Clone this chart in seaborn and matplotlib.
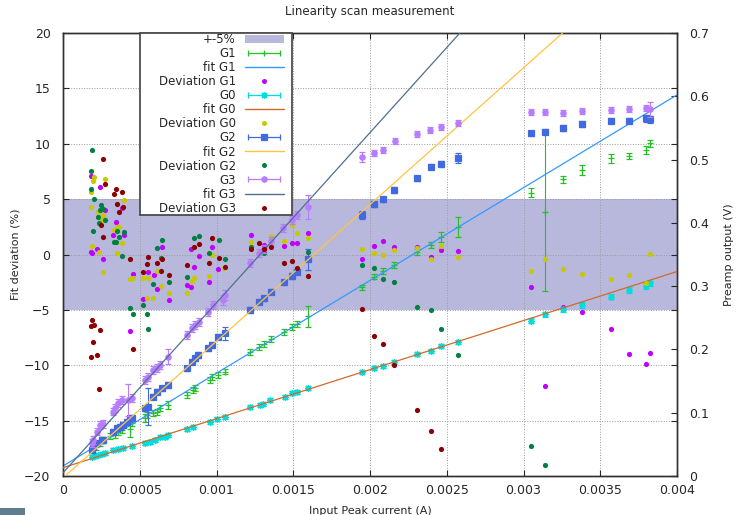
import numpy as np
import seaborn as sns
import matplotlib
matplotlib.use("Agg")
import matplotlib.pyplot as plt
from matplotlib.lines import Line2D
from matplotlib.patches import Patch, Rectangle
from matplotlib.legend_handler import HandlerLine2D

# ---- G1 : preamp output (V) vs input peak current (A) ----
g1_x = [0.000213, 0.000241, 0.000306, 0.000339, 0.000360, 0.000382, 0.000437, 0.000448, 0.000534, 0.000545,
        0.000588, 0.000610, 0.000632, 0.000686, 0.000806, 0.000849, 0.000860, 0.000958, 0.000969, 0.001012,
        0.001055, 0.001218, 0.001279, 0.001310, 0.001353, 0.001440, 0.001490, 0.001526, 0.001598, 0.001946,
        0.002026, 0.002087, 0.002158, 0.002304, 0.002398, 0.002463, 0.002575, 0.003047, 0.003140, 0.003260,
        0.003379, 0.003570, 0.003689, 0.003798, 0.003824]
g1_v = [0.0463, 0.0517, 0.0630, 0.0648, 0.0700, 0.0727, 0.0735, 0.0833, 0.0912, 0.0964,
        0.0991, 0.1016, 0.1070, 0.1122, 0.1280, 0.1359, 0.1386, 0.1517, 0.1569, 0.1596,
        0.1648, 0.1964, 0.2043, 0.2086, 0.2160, 0.2280, 0.2350, 0.2402, 0.2523, 0.2982,
        0.3149, 0.3244, 0.3334, 0.3544, 0.3650, 0.3772, 0.3930, 0.4476, 0.4176, 0.4688,
        0.4835, 0.5020, 0.5056, 0.5151, 0.5257]
g1_err = [0.005, 0.005, 0.005, 0.005, 0.005, 0.005, 0.012, 0.005, 0.006, 0.005,
          0.005, 0.005, 0.005, 0.007, 0.005, 0.005, 0.005, 0.005, 0.005, 0.004,
          0.004, 0.005, 0.005, 0.005, 0.005, 0.005, 0.005, 0.004, 0.017, 0.004,
          0.004, 0.005, 0.005, 0.005, 0.005, 0.008, 0.016, 0.007, 0.125, 0.006,
          0.008, 0.007, 0.005, 0.006, 0.006]

# ---- G0 ----
g0_x = [0.000187, 0.000208, 0.000230, 0.000252, 0.000274, 0.000328, 0.000360, 0.000393, 0.000448, 0.000534,
        0.000567, 0.000599, 0.000632, 0.000665, 0.000686, 0.000806, 0.000849, 0.000958, 0.001001, 0.001055,
        0.001218, 0.001283, 0.001305, 0.001349, 0.001446, 0.001490, 0.001523, 0.001598, 0.001946, 0.002026,
        0.002087, 0.002158, 0.002308, 0.002398, 0.002463, 0.002575, 0.003047, 0.003140, 0.003260, 0.003379,
        0.003570, 0.003689, 0.003798, 0.003824]
g0_v = [0.0298, 0.0318, 0.0332, 0.0348, 0.0359, 0.0411, 0.0427, 0.0447, 0.0474, 0.0526,
        0.0542, 0.0569, 0.0621, 0.0621, 0.0648, 0.0738, 0.0770, 0.0858, 0.0896, 0.0937,
        0.1086, 0.1122, 0.1138, 0.1201, 0.1253, 0.1316, 0.1332, 0.1395, 0.1648, 0.1702,
        0.1743, 0.1806, 0.1928, 0.1980, 0.2054, 0.2122, 0.2454, 0.2555, 0.2634, 0.2702,
        0.2833, 0.2939, 0.3002, 0.3045]
g0_err = [0.003, 0.003, 0.003, 0.003, 0.003, 0.003, 0.003, 0.003, 0.003, 0.003,
          0.003, 0.003, 0.003, 0.003, 0.003, 0.003, 0.003, 0.003, 0.003, 0.003,
          0.003, 0.003, 0.003, 0.003, 0.003, 0.003, 0.003, 0.003, 0.003, 0.003,
          0.003, 0.003, 0.003, 0.003, 0.003, 0.003, 0.004, 0.004, 0.004, 0.004,
          0.004, 0.004, 0.004, 0.004]

# ---- G2 ----
g2_x = [0.000187, 0.000197, 0.000220, 0.000252, 0.000261, 0.000328, 0.000350, 0.000371, 0.000391, 0.000415,
        0.000437, 0.000448, 0.000534, 0.000554, 0.000586, 0.000610, 0.000643, 0.000684, 0.000806, 0.000838,
        0.000860, 0.000880, 0.000945, 0.000969, 0.001010, 0.001055, 0.001218, 0.001279, 0.001310, 0.001353,
        0.001440, 0.001490, 0.001526, 0.001598, 0.001946, 0.002026, 0.002087, 0.002158, 0.002304, 0.002398,
        0.002463, 0.002573, 0.003047, 0.003140, 0.003260, 0.003379, 0.003570, 0.003689, 0.003798, 0.003824]
g2_v = [0.0411, 0.0463, 0.0517, 0.0569, 0.0569, 0.0700, 0.0754, 0.0779, 0.0806, 0.0858,
        0.0912, 0.0912, 0.1070, 0.1095, 0.1253, 0.1332, 0.1386, 0.1438, 0.1702, 0.1806,
        0.1860, 0.1912, 0.2018, 0.2070, 0.2201, 0.2255, 0.2623, 0.2754, 0.2808, 0.2912,
        0.3061, 0.3160, 0.3228, 0.3424, 0.4124, 0.4293, 0.4372, 0.4519, 0.4704, 0.4887,
        0.4930, 0.5020, 0.5415, 0.5440, 0.5494, 0.5557, 0.5614, 0.5614, 0.5652, 0.5636]
g2_err = [0.004, 0.004, 0.004, 0.004, 0.004, 0.004, 0.004, 0.004, 0.004, 0.004,
          0.004, 0.004, 0.004, 0.029, 0.004, 0.004, 0.004, 0.004, 0.004, 0.004,
          0.004, 0.004, 0.004, 0.004, 0.004, 0.010, 0.004, 0.004, 0.004, 0.004,
          0.004, 0.004, 0.004, 0.017, 0.006, 0.004, 0.004, 0.004, 0.004, 0.004,
          0.004, 0.008, 0.004, 0.004, 0.005, 0.005, 0.004, 0.004, 0.006, 0.006]

# ---- G3 ----
g3_x = [0.000187, 0.000197, 0.000220, 0.000241, 0.000259, 0.000326, 0.000339, 0.000360, 0.000382, 0.000423,
        0.000448, 0.000534, 0.000554, 0.000586, 0.000610, 0.000632, 0.000684, 0.000806, 0.000838, 0.000860,
        0.000884, 0.000945, 0.000977, 0.001042, 0.001055, 0.001218, 0.001279, 0.001310, 0.001353, 0.001433,
        0.001490, 0.001523, 0.001596, 0.001946, 0.002026, 0.002087, 0.002163, 0.002306, 0.002391, 0.002463,
        0.002573, 0.003047, 0.003140, 0.003260, 0.003379, 0.003570, 0.003689, 0.003798, 0.003824]
g3_v = [0.0517, 0.0569, 0.0700, 0.0806, 0.0822, 0.1016, 0.1074, 0.1153, 0.1201, 0.1201,
        0.1232, 0.1517, 0.1569, 0.1675, 0.1706, 0.1754, 0.1885, 0.2228, 0.2339, 0.2386,
        0.2430, 0.2596, 0.2702, 0.2781, 0.2860, 0.3366, 0.3525, 0.3590, 0.3716, 0.3919,
        0.4045, 0.4124, 0.4255, 0.5045, 0.5109, 0.5151, 0.5293, 0.5404, 0.5467, 0.5514,
        0.5577, 0.5747, 0.5752, 0.5731, 0.5772, 0.5783, 0.5799, 0.5810, 0.5794]
g3_err = [0.006, 0.006, 0.006, 0.006, 0.006, 0.006, 0.006, 0.006, 0.006, 0.025,
          0.006, 0.006, 0.006, 0.006, 0.006, 0.006, 0.012, 0.006, 0.006, 0.006,
          0.006, 0.006, 0.006, 0.008, 0.008, 0.006, 0.006, 0.006, 0.006, 0.006,
          0.006, 0.006, 0.019, 0.008, 0.005, 0.005, 0.005, 0.005, 0.005, 0.005,
          0.005, 0.005, 0.004, 0.005, 0.005, 0.005, 0.005, 0.005, 0.012]

# ---- linear fit parameters (V = slope * I + offset) ----
fit_g1 = (146.6, 0.0158)
fit_g0 = (77.5, 0.0131)
fit_g2 = (216.0, -0.003)
fit_g3 = (268.8, 0.005)

# ---- deviations from fit (%) ----
dev1_x = [0.000182, 0.000241, 0.000382, 0.000274, 0.000345, 0.000328, 0.000397, 0.000220, 0.000182, 0.000191,
          0.000263, 0.000454, 0.000435, 0.000643, 0.000552, 0.000593, 0.000614, 0.000523, 0.000691, 0.000834,
          0.000973, 0.000886, 0.000855, 0.001012, 0.000806, 0.000834, 0.000951, 0.001225, 0.001310, 0.001440,
          0.001490, 0.001526, 0.001598, 0.001946, 0.002026, 0.002087, 0.002158, 0.002304, 0.002398, 0.002463,
          0.002575, 0.003047, 0.003140, 0.003260, 0.003379, 0.003570, 0.003689, 0.003798, 0.003824]
dev1_y = [7.1, 6.1, 4.2, 4.0, 2.9, 1.8, 1.8, 0.5, 0.25, 0.1,
          -0.4, -1.8, -6.9, 0.7, -1.55, -1.85, -3.1, -4.0, -4.1, 0.5,
          0.7, -0.15, -1.1, -1.3, -2.75, -2.9, -2.45, 1.8, 0.85, 0.8,
          1.0, 1.0, 1.9, -0.4, 0.8, 1.25, 0.7, 0.7, -0.25, 0.4,
          0.35, -2.95, -11.9, -4.75, -5.15, -6.7, -9.0, -9.9, -8.85]

dev0_x = [0.000200, 0.000195, 0.000274, 0.000182, 0.000397, 0.000182, 0.000230, 0.000263, 0.000252, 0.000350,
          0.000365, 0.000332, 0.000382, 0.000191, 0.000236, 0.000354, 0.000263, 0.000435, 0.000454, 0.000523,
          0.000552, 0.000614, 0.000637, 0.000691, 0.000545, 0.000588, 0.000973, 0.001051, 0.000855, 0.000842,
          0.000806, 0.000951, 0.001223, 0.001353, 0.001440, 0.001490, 0.001526, 0.001598, 0.001946, 0.002026,
          0.002087, 0.002158, 0.002304, 0.002398, 0.002463, 0.002575, 0.003047, 0.003140, 0.003260, 0.003379,
          0.003570, 0.003689, 0.003798, 0.003824]
dev0_y = [7.0, 6.6, 6.8, 5.6, 4.9, 4.3, 3.8, 3.6, 3.1, 2.5,
          2.5, 2.2, 1.0, 0.8, 0.25, 0.1, -1.6, -2.2, -2.1, -2.1,
          -2.1, -1.5, -2.85, -3.45, -3.95, -3.9, -0.05, -1.25, -2.1, -2.35,
          -3.5, -1.95, 1.15, 1.7, 1.25, 2.7, 1.9, 1.5, 0.5, 0.1,
          -0.05, 0.45, 0.55, -0.45, 0.75, -0.2, -1.5, -0.45, -1.3, -1.75,
          -2.25, -1.85, -2.6, 0.05]

dev2_x = [0.000191, 0.000182, 0.000182, 0.000200, 0.000248, 0.000241, 0.000263, 0.000226, 0.000274, 0.000235,
          0.000195, 0.000350, 0.000397, 0.000365, 0.000332, 0.000345, 0.000382, 0.000435, 0.000454, 0.000610,
          0.000647, 0.000637, 0.000588, 0.000691, 0.000523, 0.000545, 0.000556, 0.000855, 0.000884, 0.001016,
          0.000951, 0.001055, 0.000806, 0.001225, 0.001310, 0.001598, 0.001946, 0.002026, 0.002087, 0.002158,
          0.002304, 0.002398, 0.002463, 0.002575, 0.003047, 0.003140]
dev2_y = [9.4, 7.5, 5.9, 5.0, 4.5, 4.0, 4.1, 3.4, 3.1, 2.8,
          2.1, 2.1, 2.0, 1.6, 1.1, 1.1, -0.1, -4.8, -5.4, 0.6,
          1.3, -0.35, -2.7, -2.45, -4.6, -5.4, -6.7, 1.5, 1.7, 1.3,
          0.1, -0.4, -2.0, 0.7, 0.1, 0.2, -0.95, -1.2, -2.2, -2.45,
          -4.7, -5.05, -6.75, -9.1, -17.3, -19.0]

dev3_x = [0.000263, 0.000274, 0.000345, 0.000382, 0.000332, 0.000354, 0.000393, 0.000363, 0.000246, 0.000263,
          0.000437, 0.000191, 0.000200, 0.000182, 0.000241, 0.000195, 0.000454, 0.000223, 0.000182, 0.000236,
          0.000556, 0.000545, 0.000610, 0.000647, 0.000523, 0.000637, 0.000691, 0.000855, 0.000884, 0.000973,
          0.000806, 0.000951, 0.001016, 0.001055, 0.001225, 0.001279, 0.001310, 0.001353, 0.001440, 0.001490,
          0.001526, 0.001598, 0.001946, 0.002026, 0.002087, 0.002158, 0.002308, 0.002398, 0.002463]
dev3_y = [8.6, 6.4, 5.9, 5.6, 5.5, 4.6, 4.3, 3.8, 2.7, 1.6,
          -0.4, -5.9, -6.4, -6.5, -6.8, -7.9, -8.5, -9.1, -9.3, -12.1,
          -0.25, -0.9, -0.8, -0.4, -1.55, -1.5, -1.85, 0.65, 0.95, 1.5,
          -0.95, -0.8, -0.35, -1.1, 0.5, 1.0, 0.5, 0.7, -0.8, -0.55,
          -1.25, -1.95, -4.95, -7.4, -8.1, -10.0, -14.0, -15.9, -17.6]

# axis ticks
x_ticks = [0, 0.0005, 0.001, 0.0015, 0.002, 0.0025, 0.003, 0.0035, 0.004]
x_tick_labels = ["0", "0.0005", "0.001", "0.0015", "0.002", "0.0025", "0.003", "0.0035", "0.004"]
dev_ticks = [-20, -15, -10, -5, 0, 5, 10, 15, 20]
v_ticks = [0, 0.1, 0.2, 0.3, 0.4, 0.5, 0.6, 0.7]
v_tick_labels = ["0", "0.1", "0.2", "0.3", "0.4", "0.5", "0.6", "0.7"]

# colours
band_color = "#b8b8dc"
c_g1, c_fit1, c_dev1 = "#22c322", "#3399ff", "#c000ff"
c_g0, c_fit0, c_dev0 = "#00dddd", "#d2692a", "#c8c800"
c_g2, c_fit2, c_dev2 = "#4169e1", "#ffc43d", "#008040"
c_g3, c_fit3, c_dev3 = "#b77cff", "#4f6f8f", "#8b0000"
text_color = "#262626"

sns.set_style("ticks")
plt.rcParams['font.family'] = ['DejaVu Sans']

fig = plt.figure(figsize=(7.37, 5.15), dpi=100)
ax = fig.add_axes([63 / 737, 39 / 515, 614 / 737, 443 / 515])
ax2 = ax.twinx()

# +-5% band and grid on the deviation axis
ax.axhspan(-5, 5, color=band_color, lw=0, zorder=0.8)
ax.set_axisbelow(False)
ax.grid(True, ls=":", color="#9a9a9a", lw=0.7)

xs = np.linspace(0, 0.004, 400)
series = [
    (g1_x, g1_v, g1_err, c_g1, "+", 5, fit_g1, c_fit1, dev1_x, dev1_y, c_dev1),
    (g0_x, g0_v, g0_err, c_g0, (8, 2, 0), 5, fit_g0, c_fit0, dev0_x, dev0_y, c_dev0),
    (g2_x, g2_v, g2_err, c_g2, "s", 5, fit_g2, c_fit2, dev2_x, dev2_y, c_dev2),
    (g3_x, g3_v, g3_err, c_g3, "o", 3.8, fit_g3, c_fit3, dev3_x, dev3_y, c_dev3),
]
z = 2
for gx, gv, ge, gc, mk, ms, (slope, off), fc, dx, dy, dc in series:
    ax2.errorbar(gx, gv, yerr=ge, fmt="", marker=mk, linestyle="none", color=gc, ms=ms,
                 mew=0.9, elinewidth=0.8, capsize=2, capthick=0.8, zorder=z)
    sns.lineplot(x=xs, y=slope * xs + off, ax=ax2, color=fc, lw=0.9, zorder=z + 0.1)
    sns.scatterplot(x=dx, y=dy, ax=ax2, color=dc, s=14, linewidth=0, marker="o",
                    zorder=z + 0.2, transform=ax.transData, legend=False)
    z += 1

ax.set_xlim(0, 0.004)
ax.set_ylim(-20, 20)
ax2.set_ylim(0, 0.7)

ax.set_xticks(x_ticks)
ax.set_xticklabels(x_tick_labels)
ax.set_yticks(dev_ticks)
ax2.set_yticks(v_ticks)
ax2.set_yticklabels(v_tick_labels)

ax.tick_params(axis="both", direction="in", length=4, width=0.8, colors=text_color,
               labelsize=9, top=True, right=True, labelright=False)
ax.tick_params(axis="x", pad=6)
ax.tick_params(axis="y", pad=9)
ax2.tick_params(axis="y", direction="in", length=4, width=0.8, colors=text_color,
                labelsize=9, pad=9)
for a in (ax, ax2):
    for sp in a.spines.values():
        sp.set_color("#303030")
        sp.set_linewidth(1.0)

ax.set_xlabel("Input Peak current (A)", fontsize=8, color=text_color)
ax.set_ylabel("Fit deviation (%)", fontsize=8, color=text_color)
ax2.set_ylabel("Preamp output (V)", fontsize=8, color=text_color)
ax.xaxis.set_label_coords(0.5, -0.068)
ax.yaxis.set_label_coords(-0.070, 0.5)
ax2.yaxis.set_label_coords(1.077, 0.5)
fig.text(0.502, 1 - 12 / 515, "Linearity scan measurement", ha="center", va="center",
         fontsize=8.5, color=text_color)

# legend with gnuplot-like errorbar samples
handles, labels, hmap = [Patch(facecolor=band_color, edgecolor="none")], ["+-5%"], {}
for name, gc, mk, ms, fc, dc in [("G1", c_g1, "+", 5, c_fit1, c_dev1),
                                 ("G0", c_g0, (8, 2, 0), 5, c_fit0, c_dev0),
                                 ("G2", c_g2, "s", 5, c_fit2, c_dev2),
                                 ("G3", c_g3, "o", 3.8, c_fit3, c_dev3)]:
    caps = Line2D([], [], color=gc, lw=0.9, marker="|", ms=5, mew=0.9)
    mid = Line2D([], [], color=gc, ls="none", marker=mk, ms=ms, mew=0.9)
    hmap[caps] = HandlerLine2D(numpoints=2)
    handles += [(caps, mid), Line2D([], [], color=fc, lw=1.0),
                Line2D([], [], color=dc, ls="none", marker="o", ms=3.6, mew=0)]
    labels += [name, "fit " + name, "Deviation " + name]

frame = Rectangle((0.1254, 0.5892), 0.2471, 0.4108, transform=ax2.transAxes,
                  facecolor="white", edgecolor="#404040", lw=1.2, zorder=9, clip_on=False)
ax2.add_patch(frame)
leg = ax2.legend(handles, labels, handler_map=hmap, loc="upper right",
                 bbox_to_anchor=(0.3595, 1.0), frameon=False, markerfirst=False,
                 fontsize=8.5, handlelength=3.3, handletextpad=0.75,
                 labelspacing=0.09, borderpad=0.0, borderaxespad=0)
leg.set_zorder(11)
for t in leg.get_texts():
    t.set_color(text_color)

fig.patches.append(Rectangle((0, 0), 25 / 737, 7 / 515, transform=fig.transFigure,
                             facecolor="#5f7d8e", edgecolor="none"))

fig.savefig("out.png", dpi=100)
